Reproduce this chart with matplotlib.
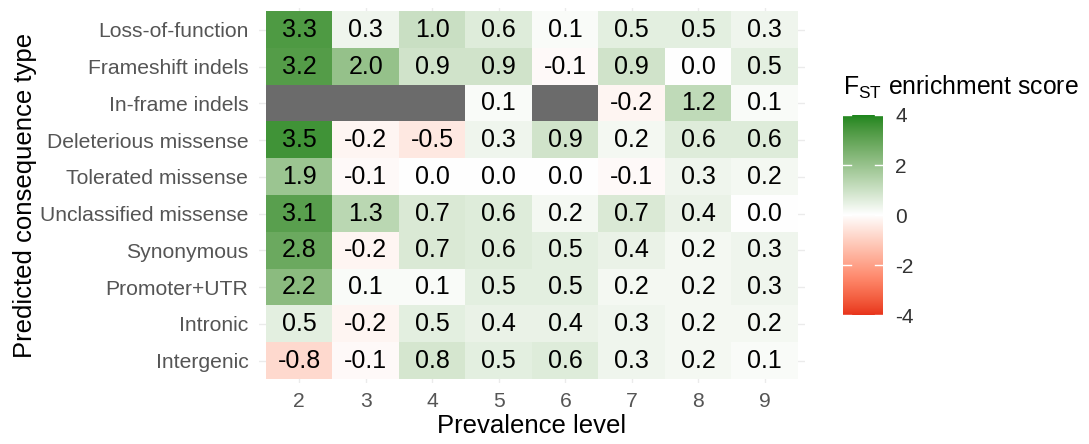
import numpy as np
import matplotlib
matplotlib.use("Agg")
import matplotlib.pyplot as plt
from matplotlib.colors import ListedColormap, Normalize

plt.rcParams['font.family'] = ['Liberation Sans', 'DejaVu Sans']
plt.rcParams['mathtext.fontset'] = 'custom'
plt.rcParams['mathtext.rm'] = 'Liberation Sans'
plt.rcParams['mathtext.it'] = 'Liberation Sans:italic'

consequence_types = ["Loss-of-function", "Frameshift indels", "In-frame indels",
                     "Deleterious missense", "Tolerated missense", "Unclassified missense",
                     "Synonymous", "Promoter+UTR", "Intronic", "Intergenic"]
prevalence_levels = [2, 3, 4, 5, 6, 7, 8, 9]

nan = np.nan
loss_of_function = [3.3, 0.3, 1.0, 0.6, 0.1, 0.5, 0.5, 0.3]
frameshift_indels = [3.2, 2.0, 0.9, 0.9, -0.1, 0.9, 0.0, 0.5]
inframe_indels = [nan, nan, nan, 0.1, nan, -0.2, 1.2, 0.1]
deleterious_missense = [3.5, -0.2, -0.5, 0.3, 0.9, 0.2, 0.6, 0.6]
tolerated_missense = [1.9, -0.1, 0.0, 0.0, 0.0, -0.1, 0.3, 0.2]
unclassified_missense = [3.1, 1.3, 0.7, 0.6, 0.2, 0.7, 0.4, 0.0]
synonymous = [2.8, -0.2, 0.7, 0.6, 0.5, 0.4, 0.2, 0.3]
promoter_utr = [2.2, 0.1, 0.1, 0.5, 0.5, 0.2, 0.2, 0.3]
intronic = [0.5, -0.2, 0.5, 0.4, 0.4, 0.3, 0.2, 0.2]
intergenic = [-0.8, -0.1, 0.8, 0.5, 0.6, 0.3, 0.2, 0.1]

scores = np.array([loss_of_function, frameshift_indels, inframe_indels,
                   deleterious_missense, tolerated_missense, unclassified_missense,
                   synonymous, promoter_utr, intronic, intergenic])

low_col, mid_col, high_col = "#E8341C", "#FFFFFF", "#1A851A"


# ggplot-like gradient2: interpolate in Lab space
def hex_to_lab(h):
    rgb = np.array([int(h[i:i + 2], 16) / 255 for i in (1, 3, 5)])
    lin = np.where(rgb <= 0.04045, rgb / 12.92, ((rgb + 0.055) / 1.055) ** 2.4)
    m = np.array([[0.4124, 0.3576, 0.1805],
                  [0.2126, 0.7152, 0.0722],
                  [0.0193, 0.1192, 0.9505]])
    xyz = m @ lin / np.array([0.95047, 1.0, 1.08883])
    f = np.where(xyz > 0.008856, np.cbrt(xyz), 7.787 * xyz + 16 / 116)
    return np.array([116 * f[1] - 16, 500 * (f[0] - f[1]), 200 * (f[1] - f[2])])


def lab_to_rgb(lab):
    fy = (lab[..., 0] + 16) / 116
    fx = fy + lab[..., 1] / 500
    fz = fy - lab[..., 2] / 200
    f = np.stack([fx, fy, fz], axis=-1)
    xyz = np.where(f > 0.2069, f ** 3, (f - 16 / 116) / 7.787) * np.array([0.95047, 1.0, 1.08883])
    minv = np.array([[3.2406, -1.5372, -0.4986],
                     [-0.9689, 1.8758, 0.0415],
                     [0.0557, -0.2040, 1.0570]])
    lin = xyz @ minv.T
    lin = np.clip(lin, 0, 1)
    rgb = np.where(lin <= 0.0031308, 12.92 * lin, 1.055 * lin ** (1 / 2.4) - 0.055)
    return np.clip(rgb, 0, 1)


t = np.linspace(0, 1, 256)[:, None]
lo, mi, hi = hex_to_lab(low_col), hex_to_lab(mid_col), hex_to_lab(high_col)
labs = np.where(t < 0.5, lo + (mi - lo) * (t / 0.5), mi + (hi - mi) * ((t - 0.5) / 0.5))
cmap = ListedColormap(lab_to_rgb(labs))
cmap.set_bad("#6b6b6b")
norm = Normalize(-4, 4)

fig = plt.figure(figsize=(10.89, 4.44), dpi=100)
ax = fig.add_axes([0.2382, 0.1383, 0.5007, 0.8439])

ax.grid(True, color="#ebebeb", linewidth=1.0, zorder=0)
ax.set_axisbelow(True)
ax.imshow(np.ma.masked_invalid(scores), cmap=cmap, norm=norm, aspect="auto",
          interpolation="nearest", extent=(-0.5, 7.5, 9.5, -0.5), zorder=2)

for i in range(scores.shape[0]):
    for j in range(scores.shape[1]):
        v = scores[i, j]
        if not np.isnan(v):
            ax.text(j, i, "%.1f" % v, ha="center", va="center", fontsize=18,
                    color="black", zorder=3)

ax.set_xlim(-0.6, 7.6)
ax.set_ylim(9.6, -0.6)
ax.set_xticks(range(len(prevalence_levels)))
ax.set_xticklabels([str(p) for p in prevalence_levels])
ax.set_yticks(range(len(consequence_types)))
ax.set_yticklabels(consequence_types)
ax.tick_params(length=0, labelsize=15.2, labelcolor="#555555")
ax.tick_params(axis="y", pad=8)
ax.tick_params(axis="x", pad=7)
for s in ax.spines.values():
    s.set_visible(False)
ax.set_xlabel("Prevalence level", fontsize=18.5, labelpad=2)
ax.set_ylabel("Predicted consequence type", fontsize=18.5, labelpad=2)

# colour bar
cax = fig.add_axes([0.7741, 0.2905, 0.0367, 0.4505])
grad = np.linspace(-4, 4, 256).reshape(-1, 1)
cax.imshow(grad, cmap=cmap, norm=norm, aspect="auto", origin="lower",
           extent=(0, 1, -4, 4))
for v in [-4, -2, 0, 2, 4]:
    cax.plot([0, 0.2], [v, v], color="white", lw=1)
    cax.plot([0.8, 1], [v, v], color="white", lw=1)
cax.set_xlim(0, 1)
cax.set_ylim(-4, 4)
cax.set_xticks([])
cax.yaxis.tick_right()
cax.set_yticks([-4, -2, 0, 2, 4])
cax.set_yticklabels(["-4", "-2", "0", "2", "4"])
cax.tick_params(length=0, pad=9, labelsize=15, labelcolor="#333333")
for s in cax.spines.values():
    s.set_visible(False)

fig.text(843 / 1089, 1 - 87 / 444, r"F$_{\mathrm{ST}}$ enrichment score", fontsize=17.8,
         ha="left", va="center")

fig.savefig("out.png", dpi=100)
